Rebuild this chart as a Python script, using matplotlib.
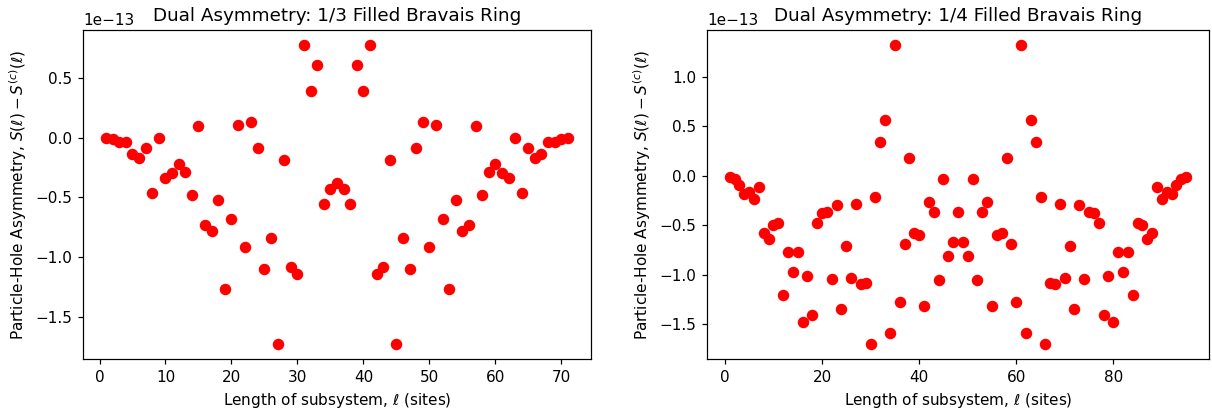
import numpy as np
import matplotlib
matplotlib.use('Agg')
import matplotlib.pyplot as plt

# asymmetry values in units of 1e-13
scale = 1e-13

ell_third = list(range(1, 72))
asym_third = [
    0.0, -0.014, -0.04, -0.04, -0.14, -0.17, -0.084, -0.46, 0.0, -0.34,
    -0.30, -0.22, -0.29, -0.48, 0.10, -0.73, -0.78, -0.52, -1.27, -0.68,
    0.106, -0.92, 0.134, -0.09, -1.10, -0.84, -1.73, -0.19, -1.08, -1.14,
    0.777, 0.388, 0.606, -0.56, -0.427, -0.38, -0.427, -0.56, 0.606, 0.388,
    0.777, -1.14, -1.08, -0.19, -1.73, -0.84, -1.10, -0.09, 0.134, -0.92,
    0.106, -0.68, -1.27, -0.52, -0.78, -0.73, 0.10, -0.48, -0.29, -0.22,
    -0.30, -0.34, 0.0, -0.46, -0.084, -0.17, -0.14, -0.04, -0.04, -0.014,
    0.0,
]

ell_quarter = list(range(1, 96))
asym_quarter = [
    -0.01, -0.03, -0.094, -0.19, -0.17, -0.24, -0.114, -0.577, -0.64, -0.50,
    -0.48, -1.20, -0.77, -0.97, -0.77, -1.476, -1.01, -1.41, -0.48, -0.38,
    -0.366, -1.04, -0.30, -1.35, -0.71, -1.03, -0.285, -1.094, -1.087, -1.70,
    -0.22, 0.34, 0.557, -1.59, 1.319, -1.275, -0.685, 0.178, -0.577, -0.60,
    -1.315, -0.265, -0.366, -1.05, -0.034, -0.815, -0.67, -0.366, -0.67, -0.815,
    -0.034, -1.05, -0.366, -0.265, -1.315, -0.60, -0.577, 0.178, -0.685, -1.275,
    1.319, -1.59, 0.557, 0.34, -0.22, -1.70, -1.087, -1.094, -0.285, -1.03,
    -0.71, -1.35, -0.30, -1.04, -0.366, -0.38, -0.48, -1.41, -1.01, -1.476,
    -0.77, -0.97, -0.77, -1.20, -0.48, -0.50, -0.64, -0.577, -0.114, -0.24,
    -0.17, -0.19, -0.094, -0.03, -0.01,
]

titles = ['Dual Asymmetry: 1/3 Filled Bravais Ring',
          'Dual Asymmetry: 1/4 Filled Bravais Ring']

fig = plt.figure(figsize=(1212 / 110, 409 / 110), dpi=110)
ax1 = fig.add_axes([0.0685, 0.1222, 0.4191, 0.8044])
ax2 = fig.add_axes([0.5833, 0.1222, 0.4142, 0.8044])

for ax, ell, asym, title in [(ax1, ell_third, asym_third, titles[0]),
                             (ax2, ell_quarter, asym_quarter, titles[1])]:
    ax.plot(ell, np.array(asym) * scale, 'o', color='red', markersize=6.5)
    ax.set_title(title)
    ax.set_xlabel(r'Length of subsystem, $\ell$ (sites)')
    ax.set_ylabel(r'Particle-Hole Asymmetry, $S(\ell) - S^{(c)}(\ell)$')

fig.savefig('out.png', dpi=110)
